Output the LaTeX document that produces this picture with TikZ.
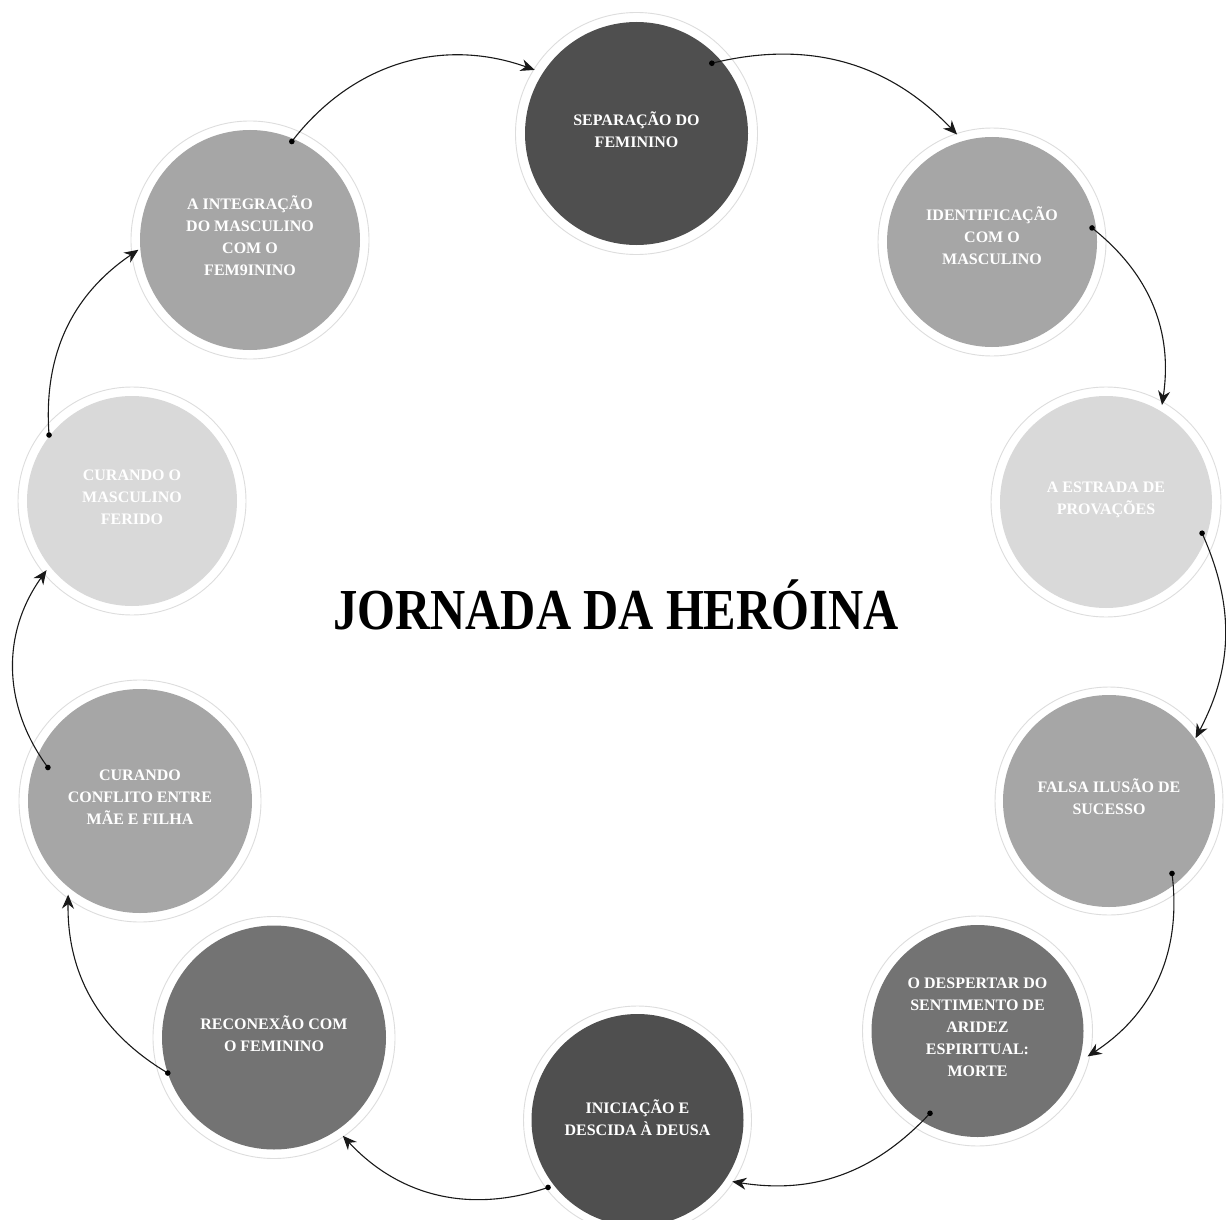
\documentclass[tikz,border=0pt]{standalone}
\usepackage{fontspec}
\setmainfont{Liberation Serif}
\usetikzlibrary{arrows.meta}
\definecolor{gA}{HTML}{4F4F4F}
\definecolor{gB}{HTML}{737373}
\definecolor{gC}{HTML}{A6A6A6}
\definecolor{gD}{HTML}{D9D9D9}
\definecolor{ringc}{HTML}{DDDDDD}
\begin{document}
\begin{tikzpicture}[x=1pt,y=1pt,
  stage/.style={circle, fill=#1, inner sep=0pt, outer sep=0pt},
  lbl/.style={text=white, font=\bfseries\fontsize{16}{22}\selectfont, align=center, yshift=4pt},
  ringline/.style={draw=ringc, line width=0.9pt},
  conn/.style={draw=black!90, line width=1.1pt, -{Stealth[length=14pt,width=12pt,inset=4.5pt]}},
  dotm/.style={fill=black}
]
\useasboundingbox (0,0) rectangle (1226,-1220);
\fill[white] (0,0) rectangle (1226,-1220);

% stages
\node[stage=gA, minimum size=223, label={[lbl]center:SEPARAÇÃO DO\\FEMININO}] (c1) at (636.5,-133.5) {};
\node[stage=gC, minimum size=210, label={[lbl, yshift=2pt]center:IDENTIFICAÇÃO\\COM O\\MASCULINO}] (c2) at (992,-242) {};
\node[stage=gD, minimum size=212, label={[lbl, yshift=-2pt]center:A ESTRADA DE\\PROVAÇÕES}] (c3) at (1106,-502) {};
\node[stage=gC, minimum size=212, label={[lbl]center:FALSA ILUSÃO DE\\SUCESSO}] (c4) at (1109,-801) {};
\node[stage=gB, minimum size=212, label={[lbl]center:O DESPERTAR DO\\SENTIMENTO DE\\ARIDEZ\\ESPIRITUAL:\\MORTE}] (c5) at (977.5,-1031) {};
\node[stage=gA, minimum size=212, label={[lbl, yshift=-2pt]center:INICIAÇÃO E\\DESCIDA À DEUSA}] (c6) at (637.5,-1120) {};
\node[stage=gB, minimum size=224, label={[lbl]center:RECONEXÃO COM\\O FEMININO}] (c7) at (274,-1037.5) {};
\node[stage=gC, minimum size=224, label={[lbl]center:CURANDO\\CONFLITO ENTRE\\MÃE E FILHA}] (c8) at (140,-801) {};
\node[stage=gD, minimum size=210, label={[lbl]center:CURANDO O\\MASCULINO\\FERIDO}] (c9) at (132,-501) {};
\node[stage=gC, minimum size=220, label={[lbl]center:A INTEGRAÇÃO\\DO MASCULINO\\COM O\\FEM9ININO}] (c10) at (250,-240) {};

% outer rings
\draw[ringline] (c1.center) circle[radius=121];
\draw[ringline] (c2.center) circle[radius=114];
\draw[ringline] (c3.center) circle[radius=115];
\draw[ringline] (c4.center) circle[radius=114];
\draw[ringline] (c5.center) circle[radius=115];
\draw[ringline] (c6.center) circle[radius=114];
\draw[ringline] (c7.center) circle[radius=121];
\draw[ringline] (c8.center) circle[radius=121];
\draw[ringline] (c9.center) circle[radius=114];
\draw[ringline] (c10.center) circle[radius=119];

% title
\node[anchor=base, font=\bfseries\fontsize{58}{60}\selectfont] (title) at (616,-629)
  {\scalebox{0.84}[1]{JORNADA DA HERÓINA}};

% connector end points
\coordinate (s1) at ([shift={(43:103)}]c1.center);
\coordinate (e2) at ([shift={(108:113)}]c2.center);
\coordinate (s2) at ([shift={(8:101)}]c2.center);
\coordinate (e3) at ([shift={(60:112)}]c3.center);
\coordinate (s3) at ([shift={(-18:101)}]c3.center);
\coordinate (e4) at ([shift={(36:107)}]c4.center);
\coordinate (s4) at ([shift={(-49:96)}]c4.center);
\coordinate (e5) at ([shift={(-13:113)}]c5.center);
\coordinate (s5) at ([shift={(-120:95)}]c5.center);
\coordinate (e6) at ([shift={(-33:113)}]c6.center);
\coordinate (s6) at ([shift={(-143:112)}]c6.center);
\coordinate (e7) at ([shift={(-55:120)}]c7.center);
\coordinate (s7) at ([shift={(-161.5:112)}]c7.center);
\coordinate (e8) at ([shift={(-127.5:118)}]c8.center);
\coordinate (s8) at ([shift={(160:98)}]c8.center);
\coordinate (e9) at ([shift={(-141:110)}]c9.center);
\coordinate (s9) at ([shift={(141.5:106)}]c9.center);
\coordinate (e10) at ([shift={(-175:112)}]c10.center);
\coordinate (s10) at ([shift={(67:107)}]c10.center);
\coordinate (e1) at ([shift={(148:120)}]c1.center);

% connectors
\draw[conn] (s1) to[bend left=30] (e2);
\draw[conn] (s2) to[bend left=30] (e3);
\draw[conn] (s3) to[bend left=26] (e4);
\draw[conn] (s4) to[bend left=32] (e5);
\draw[conn] (s5) to[bend left=28] (e6);
\draw[conn] (s6) to[bend left=33] (e7);
\draw[conn] (s7) to[bend left=30] (e8);
\draw[conn] (s8) to[bend left=36] (e9);
\draw[conn] (s9) to[bend left=30] (e10);
\draw[conn] (s10) to[bend left=36] (e1);

\foreach \p in {s1,s2,s3,s4,s5,s6,s7,s8,s9,s10}
  \fill[dotm] (\p) circle[radius=2.8];
\end{tikzpicture}
\end{document}
